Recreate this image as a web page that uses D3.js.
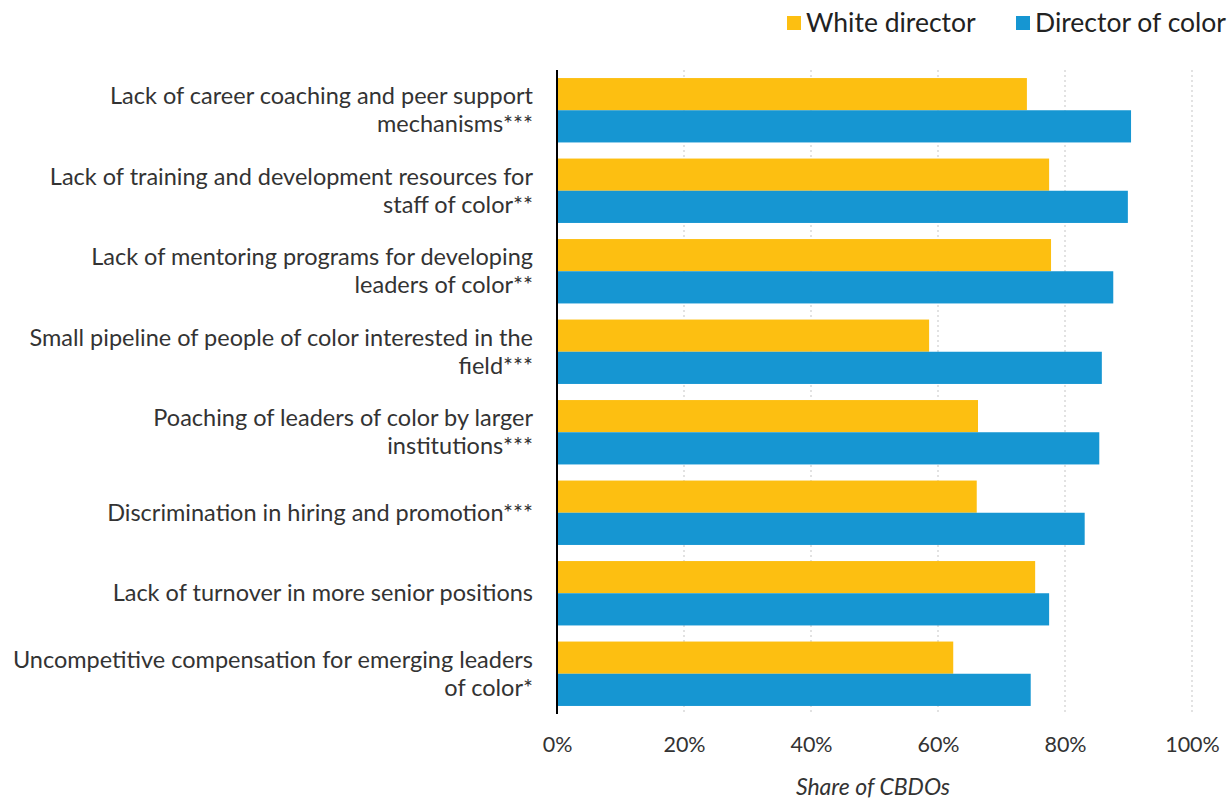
<!DOCTYPE html>
<html>
<head>
<meta charset="utf-8">
<script src="https://cdn.jsdelivr.net/npm/d3@7"></script>
<style>
  body { margin: 0; background: #fff; }
  svg { display: block; font-family: Lato, "Open Sans", sans-serif; }
</style>
</head>
<body>
<svg id="chart" width="1230" height="799"></svg>
<script>
const categories = [
  ["Lack of career coaching and peer support", "mechanisms***"],
  ["Lack of training and development resources for", "staff of color**"],
  ["Lack of mentoring programs for developing", "leaders of color**"],
  ["Small pipeline of people of color interested in the", "field***"],
  ["Poaching of leaders of color by larger", "institutions***"],
  ["Discrimination in hiring and promotion***"],
  ["Lack of turnover in more senior positions"],
  ["Uncompetitive compensation for emerging leaders", "of color*"]
];
const whiteDirector = [74.0, 77.5, 77.8, 58.6, 66.3, 66.1, 75.3, 62.4];
const directorOfColor = [90.4, 89.9, 87.6, 85.8, 85.4, 83.1, 77.5, 74.6];
const seriesNames = ["White director", "Director of color"];
const seriesColors = ["#FDBF11", "#1696D2"];
const xTicks = [0, 20, 40, 60, 80, 100];
const xTitle = "Share of CBDOs";

(function () {
const svg = d3.select("#chart");
const mLeft = 557, mRight = 1192, mTop = 70, mBottom = 714;

const x = d3.scaleLinear().domain([0, 100]).range([mLeft, mRight]);
const y = d3.scaleBand().domain(d3.range(categories.length)).range([mTop, mBottom])
  .paddingInner(0.2).paddingOuter(0.1);
const ySub = d3.scaleBand().domain([0, 1]).range([0, y.bandwidth()]);

// gridlines
svg.append("g").selectAll("line").data(xTicks.filter(d => d > 0)).join("line")
  .attr("x1", d => x(d)).attr("x2", d => x(d))
  .attr("y1", mTop).attr("y2", mBottom)
  .attr("stroke", "#cfcfcf").attr("stroke-width", 1.2)
  .attr("stroke-dasharray", "2,3");

// bars
const series = [whiteDirector, directorOfColor];
series.forEach((vals, si) => {
  svg.append("g").selectAll("rect").data(vals).join("rect")
    .attr("x", x(0))
    .attr("y", (d, i) => y(i) + ySub(si))
    .attr("width", d => x(d) - x(0))
    .attr("height", ySub.bandwidth())
    .attr("fill", seriesColors[si]);
});

// axis line
svg.append("line").attr("x1", mLeft).attr("x2", mLeft).attr("y1", mTop).attr("y2", mBottom)
  .attr("stroke", "#000").attr("stroke-width", 2);

// x tick labels
const xAxis = d3.axisBottom(x).tickValues(xTicks).tickFormat(d => d + "%").tickSize(0).tickPadding(0);
const gx = svg.append("g").attr("transform", `translate(0, ${mBottom + 38})`).call(xAxis);
gx.select(".domain").remove();
gx.selectAll("text").attr("font-size", 21.5).attr("fill", "#333").attr("font-family", "Lato, sans-serif")
  .attr("dy", "0");

// x title
svg.append("text").attr("x", 873).attr("y", 795)
  .attr("text-anchor", "middle").attr("font-size", 23).attr("font-style", "italic")
  .attr("fill", "#333").text(xTitle);

// category labels
const lab = svg.append("g");
categories.forEach((lines, i) => {
  const cy = y(i) + y.bandwidth() / 2;
  const lh = 28;
  const t = lab.append("text").attr("text-anchor", "end").attr("font-size", 23.5).attr("fill", "#333");
  lines.forEach((ln, j) => {
    t.append("tspan").attr("x", 533)
      .attr("y", cy + (j - (lines.length - 1) / 2) * lh)
      .attr("dy", "0.35em").text(ln);
  });
});

// legend
const legendPos = [787, 1016];
seriesNames.forEach((name, i) => {
  svg.append("rect").attr("x", legendPos[i]).attr("y", 16).attr("width", 14).attr("height", 14)
    .attr("fill", seriesColors[i]);
  svg.append("text").attr("x", legendPos[i] + 19).attr("y", 23).attr("dy", "0.35em")
    .attr("font-size", 26.5).attr("fill", "#222").text(name);
});
})();
</script>
</body>
</html>
